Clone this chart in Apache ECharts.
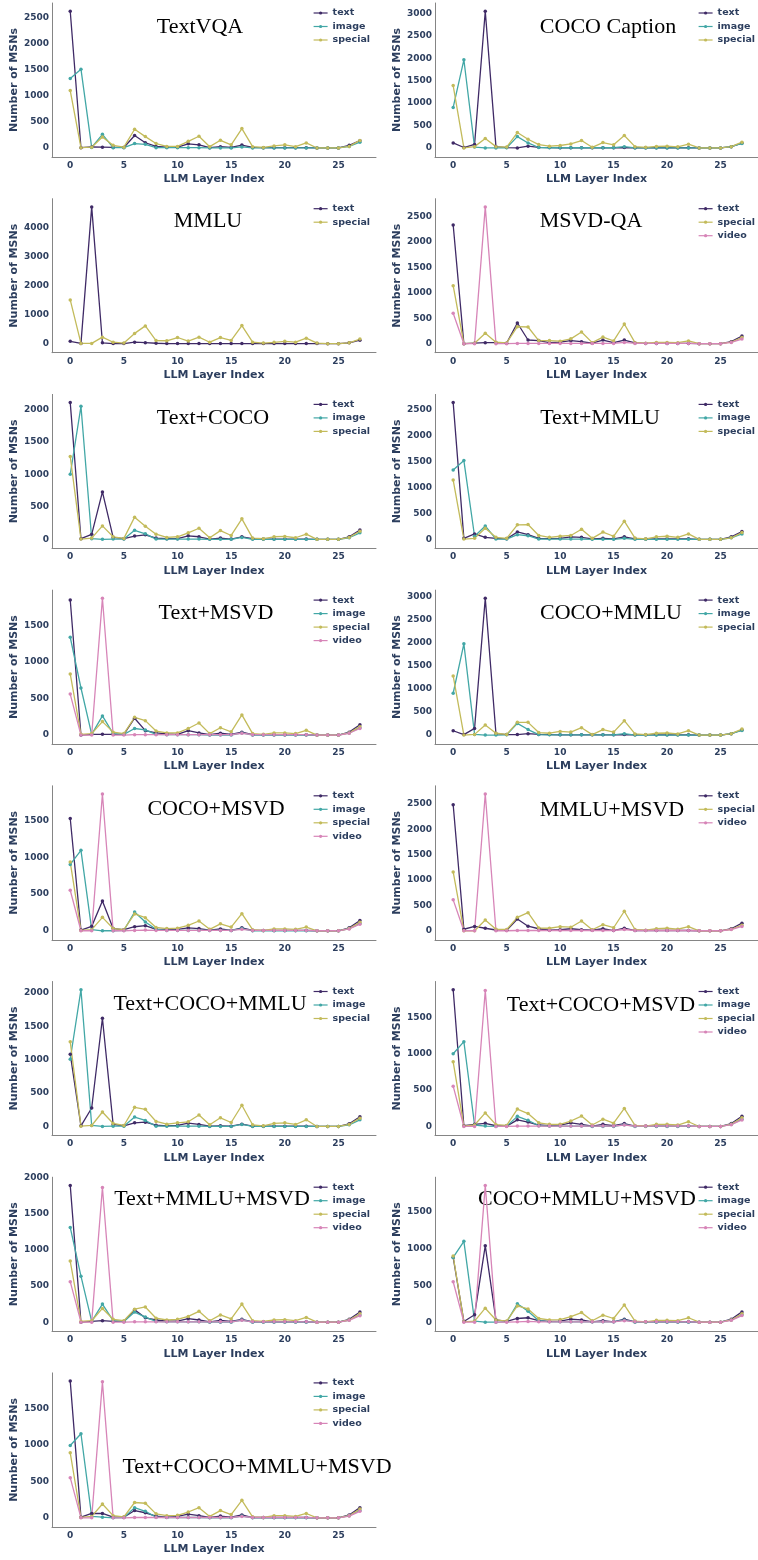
<!DOCTYPE html>
<html>
<head>
<meta charset="utf-8">
<script src="https://cdn.jsdelivr.net/npm/echarts@6/dist/echarts.min.js"></script>
<style>
  html, body { margin: 0; padding: 0; background: #fff; }
  #chart { width: 758px; height: 1560px; }
</style>
</head>
<body>
<div id="chart"></div>
<script>
// layer index on the x axis
var layers = [0,1,2,3,4,5,6,7,8,9,10,11,12,13,14,15,16,17,18,19,20,21,22,23,24,25,26,27];
var xTicks = [0, 5, 10, 15, 20, 25];

// TextVQA
var textvqaText    = [2620,5,20,15,10,10,240,100,30,15,15,80,60,5,25,10,55,10,5,5,5,5,5,0,0,0,50,140];
var textvqaImage   = [1330,1510,10,262,5,5,85,70,5,5,5,5,5,0,0,0,20,0,0,0,0,0,0,0,0,0,30,110];
var textvqaSpecial = [1100,5,15,210,50,15,358,218,85,30,30,128,224,25,147,60,371,25,10,40,60,25,96,0,0,0,30,145];
// COCO Caption
var cocoText    = [112,10,80,3050,30,10,0,40,15,10,5,5,5,5,5,5,10,5,5,5,5,5,5,0,0,0,30,110];
var cocoImage   = [905,1967,20,0,0,5,254,112,10,5,5,5,5,5,5,5,30,0,0,0,0,0,0,0,0,0,30,100];
var cocoSpecial = [1391,0,30,210,30,20,344,195,75,40,55,90,165,15,120,70,277,30,15,35,40,25,85,0,0,0,30,130];
// MMLU
var mmluText    = [82,10,4700,30,5,5,50,35,15,5,5,5,5,5,5,5,5,5,5,5,5,5,5,5,0,0,30,120];
var mmluSpecial = [1505,10,10,223,50,20,353,611,106,100,212,90,223,50,210,110,623,50,20,45,80,50,188,20,0,0,30,160];
// MSVD-QA
var msvdText    = [2335,0,10,20,20,10,407,72,60,20,30,60,40,10,70,20,70,15,5,5,5,5,5,0,0,0,40,150];
var msvdSpecial = [1141,0,10,203,30,15,335,328,60,60,50,95,230,20,130,55,387,20,10,25,25,20,55,0,0,0,30,120];
var msvdVideo   = [597,0,0,2690,0,0,5,5,5,5,5,5,5,5,5,5,25,5,5,5,5,5,5,0,0,0,25,90];
// Text+COCO
var tcText    = [2103,10,78,730,30,10,50,70,20,10,10,55,40,5,20,5,40,10,5,5,5,5,5,0,0,0,40,145];
var tcImage   = [1000,2046,10,0,5,5,140,85,5,5,5,5,5,0,0,0,30,0,0,0,0,0,0,0,0,0,25,100];
var tcSpecial = [1274,5,20,207,40,15,342,202,80,30,40,100,171,25,135,60,316,20,10,40,45,25,80,0,0,0,30,125];
// Text+MMLU
var tmText    = [2631,20,104,40,20,10,143,90,20,15,20,50,40,10,20,10,50,10,5,10,10,10,10,0,0,0,50,150];
var tmImage   = [1335,1516,60,259,5,5,90,70,5,5,5,5,5,0,0,0,20,0,0,0,0,0,0,0,0,0,30,105];
var tmSpecial = [1140,5,20,214,40,20,279,285,75,40,60,75,194,20,140,60,350,25,10,50,60,40,105,0,0,0,30,130];
// Text+MSVD
var tvText    = [1845,0,10,10,10,10,230,60,30,15,10,60,30,5,25,10,40,5,5,5,5,5,5,0,0,0,40,140];
var tvImage   = [1336,643,10,262,20,10,90,70,10,5,5,5,5,0,0,0,30,0,0,0,0,0,0,0,0,0,30,100];
var tvSpecial = [835,10,20,184,40,20,243,197,55,30,30,90,165,20,100,45,275,20,10,30,30,20,65,0,0,0,30,115];
var tvVideo   = [560,0,0,1868,0,0,5,5,5,5,5,5,5,5,5,5,25,5,5,5,5,5,5,0,0,0,25,90];
// COCO+MMLU
var cmText    = [94,10,145,2970,30,10,10,30,15,10,5,5,5,5,5,5,10,5,5,5,5,5,5,0,0,0,30,110];
var cmImage   = [908,1982,15,0,0,5,254,120,10,5,5,5,5,5,5,5,30,0,0,0,0,0,0,0,0,0,30,100];
var cmSpecial = [1285,0,15,218,40,15,276,276,55,40,80,65,160,10,120,65,312,25,10,40,45,25,95,0,0,0,30,130];
// COCO+MSVD
var cvText    = [1531,10,60,407,30,15,55,70,20,20,20,40,30,10,25,5,40,5,5,5,5,5,5,0,0,0,40,140];
var cvImage   = [905,1097,15,0,0,5,256,120,20,5,5,5,5,5,5,5,30,0,0,0,0,0,0,0,0,0,30,100];
var cvSpecial = [937,5,15,183,30,15,229,178,45,30,35,75,133,20,95,50,233,15,5,25,25,20,50,0,0,0,30,115];
var cvVideo   = [553,0,0,1865,0,0,5,10,5,5,5,5,5,5,5,5,20,5,5,5,5,5,5,0,0,0,25,90];
// MMLU+MSVD
var mvText    = [2486,30,86,50,15,10,232,90,40,10,20,40,20,10,40,5,50,5,5,5,5,5,5,0,0,0,40,150];
var mvSpecial = [1160,0,0,212,30,25,265,358,55,50,80,70,192,20,120,60,385,25,10,40,50,30,80,0,0,0,30,110];
var mvVideo   = [610,0,0,2698,0,0,5,5,5,5,5,5,5,5,5,5,25,5,5,5,5,5,5,0,0,0,25,85];
// Text+COCO+MMLU
var tcmText    = [1084,10,277,1623,30,10,55,65,20,10,15,50,30,5,10,5,35,5,5,5,5,5,5,0,0,0,40,145];
var tcmImage   = [1008,2051,15,0,5,5,141,90,5,5,5,5,5,0,0,0,30,0,0,0,0,0,0,0,0,0,25,100];
var tcmSpecial = [1270,5,15,217,45,15,287,257,75,35,55,70,171,25,130,60,318,25,10,45,55,30,100,0,0,0,30,125];
// Text+COCO+MSVD
var tcvText    = [1880,10,30,43,10,5,91,60,20,10,20,50,30,5,30,10,40,5,5,5,5,5,5,0,0,0,40,140];
var tcvImage   = [999,1166,20,5,0,5,139,85,10,5,5,5,5,0,0,0,25,0,0,0,0,0,0,0,0,0,30,100];
var tcvSpecial = [889,5,20,186,25,15,239,177,50,30,30,75,143,20,100,45,248,15,5,30,30,20,65,0,0,0,30,120];
var tcvVideo   = [554,0,0,1869,0,0,5,5,5,5,5,5,5,5,5,5,20,5,5,5,5,5,5,0,0,0,25,90];
// Text+MMLU+MSVD
var tmvText    = [1890,0,10,20,10,10,170,60,30,15,15,50,30,5,25,10,40,5,5,5,5,5,5,0,0,0,40,140];
var tmvImage   = [1310,636,10,250,20,10,140,70,10,5,5,5,5,0,0,0,30,0,0,0,0,0,0,0,0,0,30,100];
var tmvSpecial = [845,10,20,190,40,20,180,210,55,30,40,80,150,20,100,45,250,20,10,30,35,20,65,0,0,0,30,115];
var tmvVideo   = [560,0,0,1862,0,0,5,5,5,5,5,5,5,5,5,5,25,5,5,5,5,5,5,0,0,0,25,90];
// COCO+MMLU+MSVD
var cmvText    = [880,10,100,1040,30,10,50,60,20,10,15,40,30,5,20,5,40,5,5,5,5,5,5,0,0,0,40,140];
var cmvImage   = [880,1100,15,0,0,5,250,150,20,5,5,5,5,5,5,5,30,0,0,0,0,0,0,0,0,0,30,100];
var cmvSpecial = [900,5,15,190,30,15,220,180,50,30,35,75,130,20,95,50,235,15,5,25,25,20,60,0,0,0,30,115];
var cmvVideo   = [550,0,0,1860,0,0,5,10,5,5,5,5,5,5,5,5,20,5,5,5,5,5,5,0,0,0,25,90];
// Text+COCO+MMLU+MSVD
var allText    = [1870,10,60,60,10,10,100,70,25,10,20,50,30,5,25,10,40,5,5,5,5,5,5,0,0,0,40,140];
var allImage   = [990,1150,20,10,0,5,140,90,10,5,5,5,5,0,0,0,25,0,0,0,0,0,0,0,0,0,30,100];
var allSpecial = [890,5,20,190,30,15,210,200,55,30,35,80,140,20,100,45,240,15,5,30,30,20,60,0,0,0,30,120];
var allVideo   = [550,0,0,1860,0,0,5,5,5,5,5,5,5,5,5,5,20,5,5,5,5,5,5,0,0,0,25,90];

var panels = [
  {title: 'TextVQA', step: 500, tx: 200, ty: 27, lines: {text: textvqaText, image: textvqaImage, special: textvqaSpecial}},
  {title: 'COCO Caption', step: 500, tx: 608, ty: 27, lines: {text: cocoText, image: cocoImage, special: cocoSpecial}},
  {title: 'MMLU', step: 1000, tx: 208, ty: 26, lines: {text: mmluText, special: mmluSpecial}},
  {title: 'MSVD-QA', step: 500, tx: 591, ty: 26, lines: {text: msvdText, special: msvdSpecial, video: msvdVideo}},
  {title: 'Text+COCO', step: 500, tx: 213, ty: 27, lines: {text: tcText, image: tcImage, special: tcSpecial}},
  {title: 'Text+MMLU', step: 500, tx: 600, ty: 27, lines: {text: tmText, image: tmImage, special: tmSpecial}},
  {title: 'Text+MSVD', step: 500, tx: 216, ty: 26, lines: {text: tvText, image: tvImage, special: tvSpecial, video: tvVideo}},
  {title: 'COCO+MMLU', step: 500, tx: 611, ty: 26, lines: {text: cmText, image: cmImage, special: cmSpecial}},
  {title: 'COCO+MSVD', step: 500, tx: 216, ty: 26, lines: {text: cvText, image: cvImage, special: cvSpecial, video: cvVideo}},
  {title: 'MMLU+MSVD', step: 500, tx: 612, ty: 27, lines: {text: mvText, special: mvSpecial, video: mvVideo}},
  {title: 'Text+COCO+MMLU', step: 500, tx: 210, ty: 26, lines: {text: tcmText, image: tcmImage, special: tcmSpecial}},
  {title: 'Text+COCO+MSVD', step: 500, tx: 601, ty: 27, lines: {text: tcvText, image: tcvImage, special: tcvSpecial, video: tcvVideo}},
  {title: 'Text+MMLU+MSVD', step: 500, tx: 212, ty: 25, lines: {text: tmvText, image: tmvImage, special: tmvSpecial, video: tmvVideo}},
  {title: 'COCO+MMLU+MSVD', step: 500, tx: 587, ty: 25, lines: {text: cmvText, image: cmvImage, special: cmvSpecial, video: cmvVideo}},
  {title: 'Text+COCO+MMLU+MSVD', step: 500, tx: 257, ty: 97, lines: {text: allText, image: allImage, special: allSpecial, video: allVideo}}
];

var colors = {text: '#3f2a66', image: '#42a7a6', special: '#c3bb5b', video: '#d785b8'};
var ink = '#2c3e5e';
var axisGray = '#858585';
var sans = 'DejaVu Sans';
var rowH = 195.7;

var grids = [], xAxes = [], yAxes = [], legends = [], series = [], texts = [];

panels.forEach(function (p, i) {
  var col = i % 2, row = Math.floor(i / 2);
  var y0 = row * rowH;
  var gx = col ? 435 : 52;
  var names = Object.keys(p.lines);
  var dmax = 0;
  names.forEach(function (n) { dmax = Math.max(dmax, Math.max.apply(null, p.lines[n])); });
  var ymin = -0.066 * dmax, ymax = 1.06 * dmax;
  var yTicks = [];
  for (var v = 0; v <= ymax; v += p.step) yTicks.push(v);

  grids.push({left: gx, top: y0 + 3, width: 324, height: 154});
  xAxes.push({
    gridIndex: i, type: 'value', min: -1.7, max: 28.5,
    name: 'LLM Layer Index', nameLocation: 'middle', nameGap: 17,
    nameTextStyle: {fontFamily: sans, fontWeight: 'bold', fontSize: 11, color: ink},
    axisLine: {onZero: false, lineStyle: {color: axisGray, width: 1}},
    axisTick: {show: false}, splitLine: {show: false},
    axisLabel: {customValues: xTicks, margin: 4, fontFamily: sans, fontWeight: 'bold', fontSize: 9, color: ink,
      formatter: function (v) { return String(v); }}
  });
  yAxes.push({
    gridIndex: i, type: 'value', min: ymin, max: ymax,
    name: 'Number of MSNs', nameLocation: 'middle', nameGap: 30,
    nameTextStyle: {fontFamily: sans, fontWeight: 'bold', fontSize: 11, color: ink},
    axisLine: {show: true, onZero: false, lineStyle: {color: axisGray, width: 1}},
    axisTick: {show: false}, splitLine: {show: false},
    axisLabel: {customValues: yTicks, margin: 3, fontFamily: sans, fontWeight: 'bold', fontSize: 9, color: ink,
      formatter: function (v) { return String(v); }}
  });
  legends.push({
    orient: 'vertical', left: col ? 698 : 313, top: y0 + 7, padding: 0,
    itemGap: 1.5, itemWidth: 14, itemHeight: 4, selectedMode: false,
    data: names,
    lineStyle: {width: 1.2},
    textStyle: {fontFamily: sans, fontWeight: 'bold', fontSize: 9.5, color: ink, lineHeight: 12}
  });
  names.forEach(function (n) {
    series.push({
      type: 'line', name: n, xAxisIndex: i, yAxisIndex: i,
      data: layers.map(function (l, k) { return [l, p.lines[n][k]]; }),
      symbol: 'circle', symbolSize: 3.5, showSymbol: true,
      lineStyle: {width: 1.3, color: colors[n]},
      itemStyle: {color: colors[n]}
    });
  });
  texts.push({
    type: 'text', x: p.tx, y: y0 + p.ty,
    style: {text: p.title, font: '22px "Liberation Serif"', fill: '#000', textAlign: 'center', textVerticalAlign: 'middle'}
  });
});

var chart = echarts.init(document.getElementById('chart'));
chart.setOption({
  animation: false,
  backgroundColor: '#fff',
  grid: grids,
  xAxis: xAxes,
  yAxis: yAxes,
  legend: legends,
  series: series,
  graphic: texts
});
</script>
</body>
</html>
